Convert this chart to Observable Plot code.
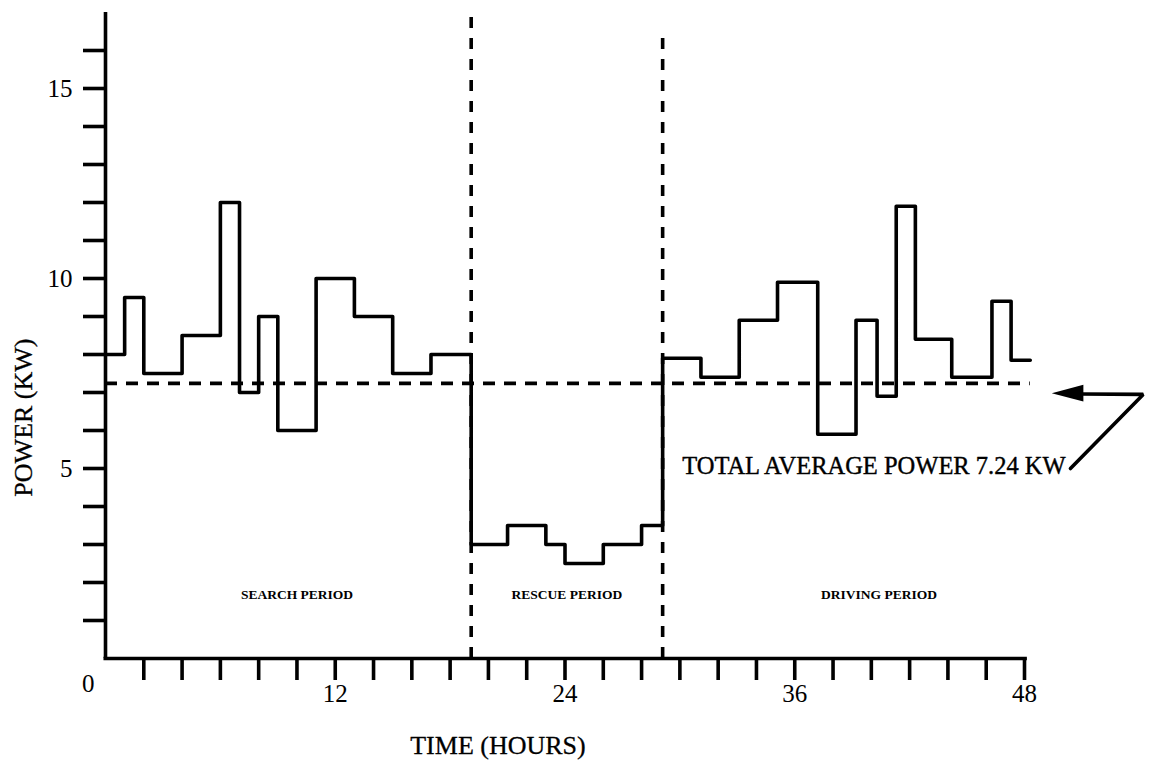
<!DOCTYPE html>
<html><head><meta charset="utf-8">
<script src="https://cdn.jsdelivr.net/npm/d3@7"></script>
<script src="https://cdn.jsdelivr.net/npm/@observablehq/plot@0.6"></script>
<style>body{margin:0;background:#fff} svg{display:block}</style>
</head><body><div id="chart"></div>
<script>
// Step start times (hours) and power level (kW) held until the next step
const stepTimes = [0, 1, 2, 4, 6, 7, 8, 9, 11, 13, 15, 17,
                   19.1, 21, 23, 24, 26, 28,
                   29.1, 31.1, 33.1, 35.1, 37.2, 39.2, 40.3, 41.3, 42.3, 44.2, 46.3, 47.3];
const stepPower = [8, 9.5, 7.5, 8.5, 12, 7, 9, 6, 10, 9, 7.5, 8,
                   3, 3.5, 3, 2.5, 3, 3.5,
                   7.9, 7.4, 8.9, 9.9, 5.9, 8.9, 6.9, 11.9, 8.4, 7.4, 9.4, 7.85];
const endTime = 48.3;
const periodBounds = [19.1, 29.1];
const periodTops = [17, 16.5];
const periodNames = ["SEARCH PERIOD", "RESCUE PERIOD", "DRIVING PERIOD"];
const periodCenters = [10, 24.1, 40.4];
const periodLabelY = 1.68;
const averagePower = 7.24;
const averageLabel = "TOTAL AVERAGE POWER 7.24 KW";
const yTicks = d3.range(1, 17);
const yTickLabels = [5, 10, 15];
const xTicks = d3.range(2, 49, 2);
const xTickLabels = [12, 24, 36, 48];
const xTitle = "TIME (HOURS)";
const yTitle = "POWER (KW)";

const steps = stepTimes.map((t, i) => ({t, p: stepPower[i]}))
  .concat([{t: endTime, p: stepPower[stepPower.length - 1]}]);
const bounds = periodBounds.map((b, i) => ({x: b, top: periodTops[i]}));
const labels = periodNames.map((n, i) => ({name: n, x: periodCenters[i]}));

// annotation arrow (data coordinates)
const arrowPath = [{x: 50.4, y: 5.0}, {x: 54.2, y: 6.95}, {x: 50.9, y: 6.96}];
const arrowHead = [{x: 49.45, lo: 6.97, hi: 6.97}, {x: 51.1, lo: 6.75, hi: 7.19}];

const serif = "Liberation Serif, Times New Roman, serif";
const W = 3.6;

const chart = Plot.plot({
  width: 1149,
  height: 760,
  marginLeft: 105,
  marginRight: 125,
  marginTop: 12,
  marginBottom: 102,
  style: {fontFamily: serif, color: "black", background: "white"},
  x: {domain: [0, 48], axis: null},
  y: {domain: [0, 17], axis: null},
  marks: [
    Plot.axisY({ticks: yTicks, tickSize: 22, tickPadding: 11, strokeWidth: W,
      tickFormat: d => yTickLabels.includes(d) ? String(d) : "",
      fontSize: 25, fontFamily: serif, label: null}),
    Plot.axisX({ticks: xTicks, tickSize: 22, tickPadding: 4, strokeWidth: W,
      tickFormat: d => xTickLabels.includes(d) ? String(d) : "",
      fontSize: 25, fontFamily: serif, label: null}),
    Plot.ruleX([0], {y1: 0, y2: 17, stroke: "black", strokeWidth: W}),
    Plot.ruleY([0], {x1: -0.08, x2: 48.15, stroke: "black", strokeWidth: W}),
    Plot.ruleX(bounds, {x: "x", y1: 0, y2: "top", stroke: "black", strokeWidth: W, strokeDasharray: "11,10"}),
    Plot.ruleY([averagePower], {x1: 0, x2: endTime, stroke: "black", strokeWidth: W, strokeDasharray: "12,9"}),
    Plot.line(steps, {x: "t", y: "p", curve: "step-after", stroke: "black", strokeWidth: W}),
    Plot.line(arrowPath, {x: "x", y: "y", stroke: "black", strokeWidth: W, strokeLinejoin: "miter"}),
    Plot.areaY(arrowHead, {x: "x", y1: "lo", y2: "hi", fill: "black"}),
    Plot.text(labels, {x: "x", y: periodLabelY, text: "name", fontSize: 13.5, fontWeight: "bold", fontFamily: serif, fill: "black"}),
    Plot.text([averageLabel], {x: 50.15, y: 5.05, text: d => d, textAnchor: "end", fontSize: 24.5, fontFamily: serif, fill: "black", stroke: "black", strokeWidth: 0.4}),
    Plot.text(["0"], {x: -0.9, y: -0.66, text: d => d, fontSize: 25, fontFamily: serif, fill: "black"}),
    Plot.text([xTitle], {x: 20.5, y: -2.29, text: d => d, fontSize: 26, fontFamily: serif, fill: "black", stroke: "black", strokeWidth: 0.3}),
    Plot.text([yTitle], {x: -4.28, y: 6.34, text: d => d, rotate: -90, fontSize: 26, fontFamily: serif, fill: "black", stroke: "black", strokeWidth: 0.3})
  ]
});
document.getElementById("chart").appendChild(chart);
</script>
</body></html>
